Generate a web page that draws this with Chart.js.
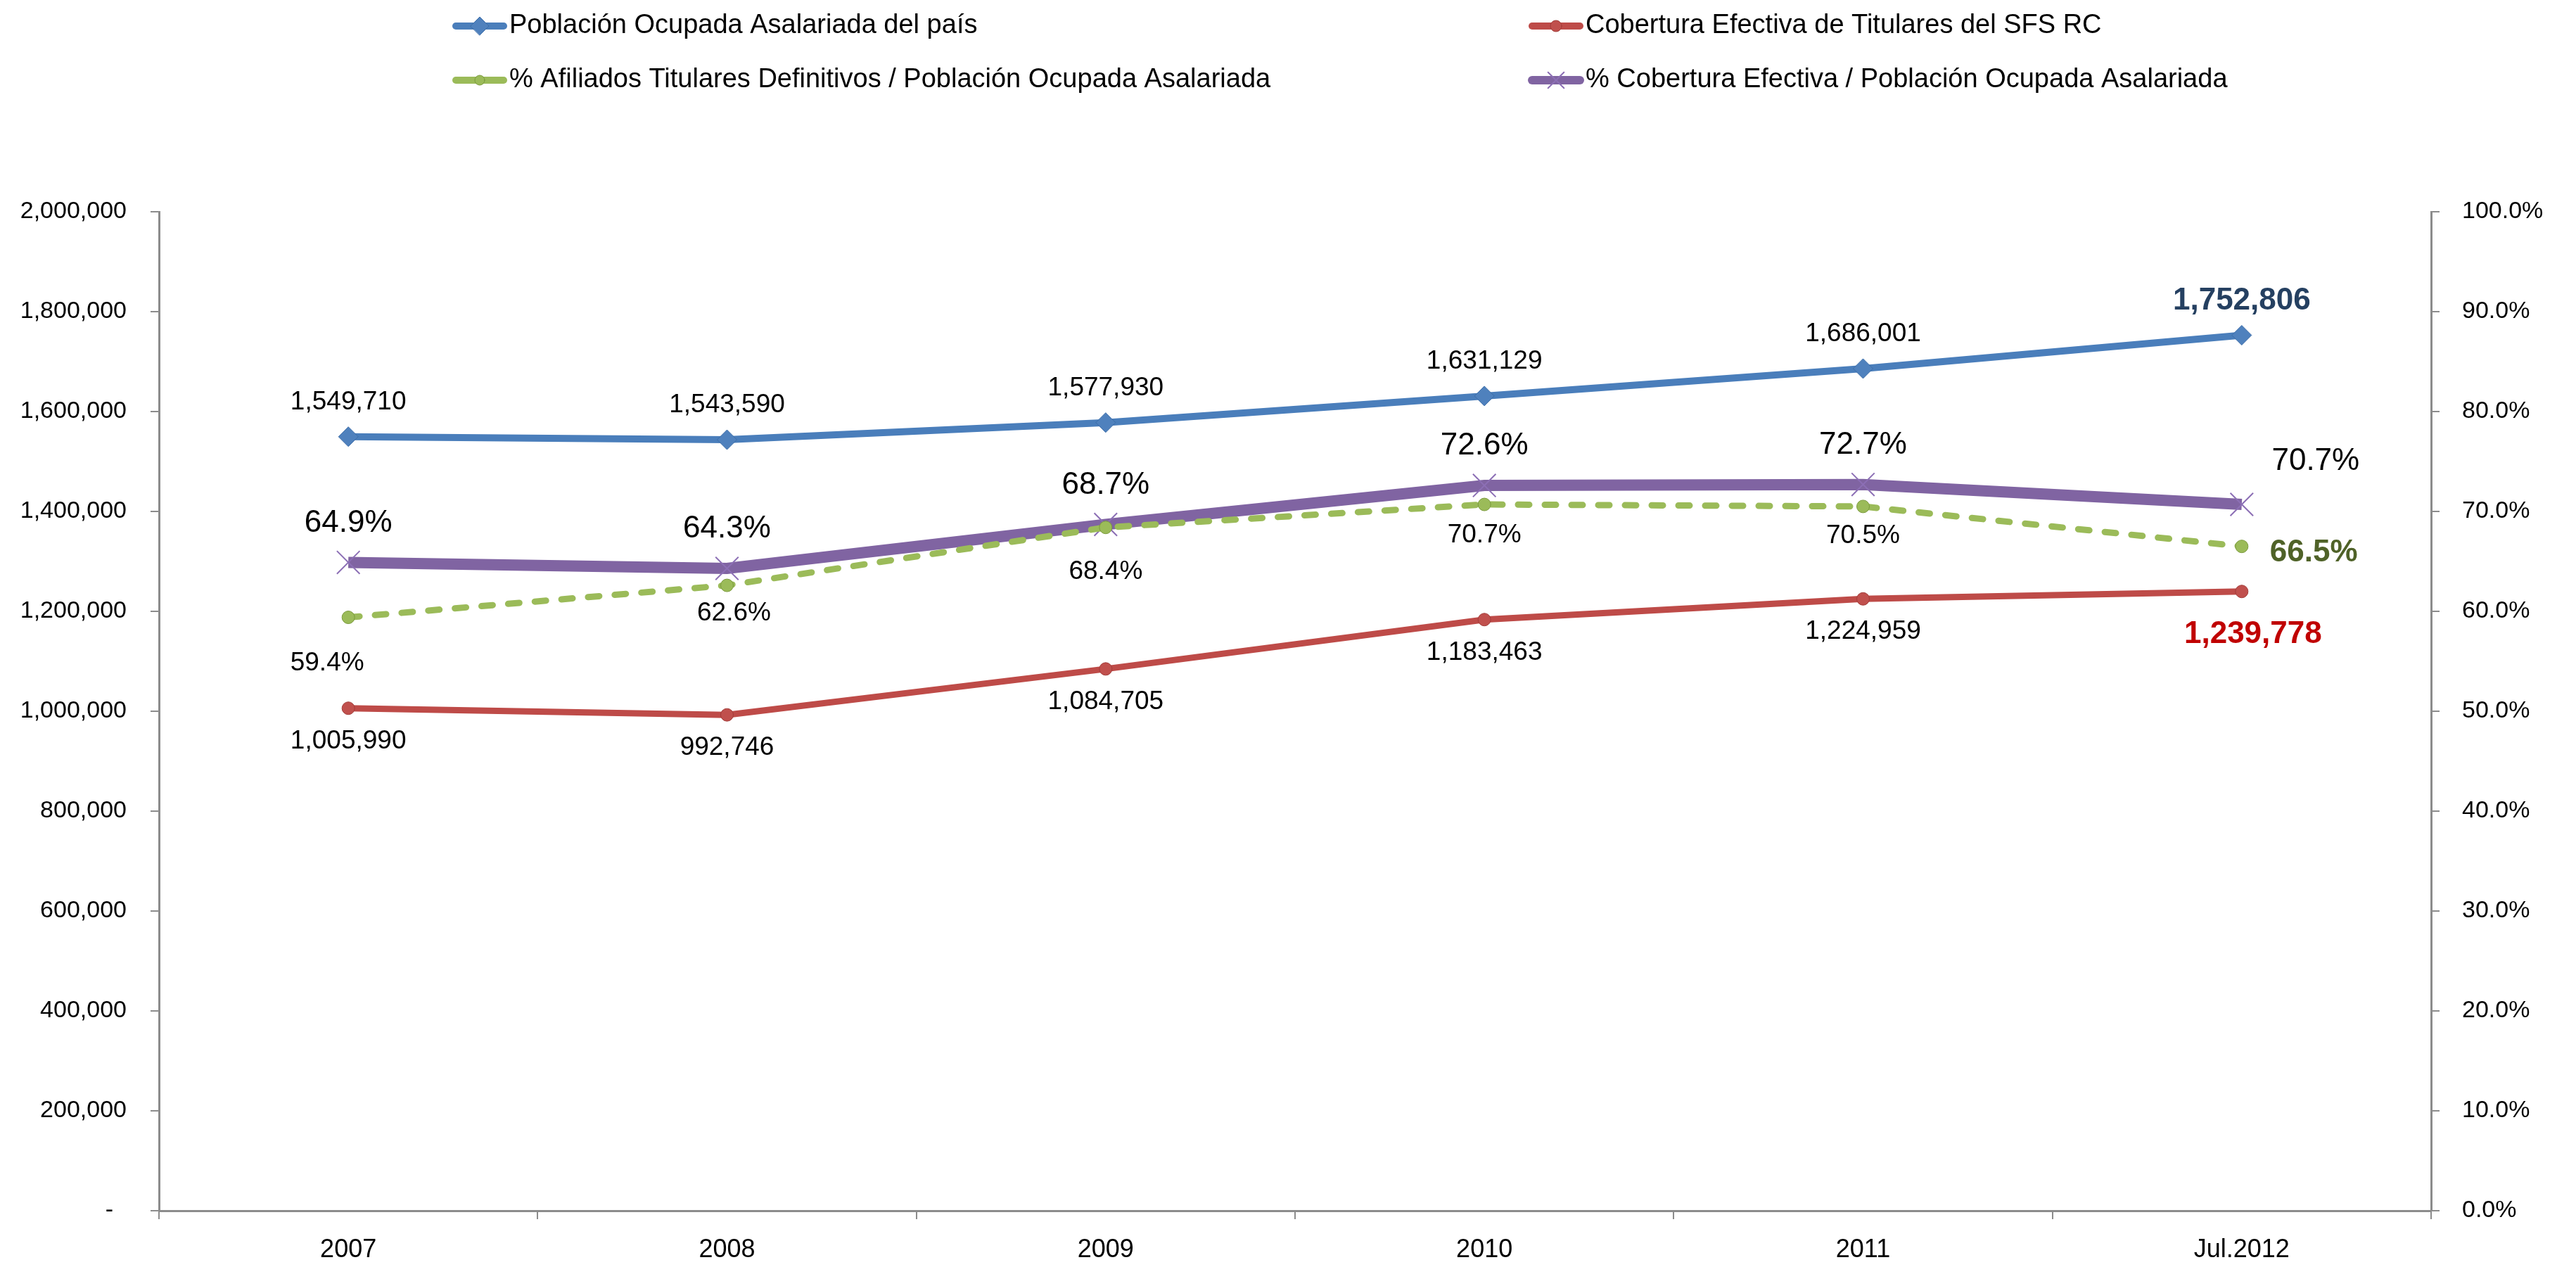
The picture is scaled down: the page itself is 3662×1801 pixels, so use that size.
<!DOCTYPE html>
<html>
<head>
<meta charset="utf-8">
<script src="https://cdn.jsdelivr.net/npm/chart.js@4.4.1/dist/chart.umd.min.js"></script>
<style>
  html, body { margin: 0; padding: 0; background: #ffffff; }
  #wrap { width: 3662px; height: 1801px; position: relative; }
</style>
</head>
<body>
<div id="wrap"><canvas id="c"></canvas></div>
<script>
// ---------- DATA ----------
const categories = ['2007', '2008', '2009', '2010', '2011', 'Jul.2012'];
const poblacionOcupada = [1549710, 1543590, 1577930, 1631129, 1686001, 1752806];
const coberturaEfectiva = [1005990, 992746, 1084705, 1183463, 1224959, 1239778];
const pctAfiliados = [59.4, 62.6, 68.4, 70.7, 70.5, 66.5];
const pctCobertura = [64.9, 64.3, 68.7, 72.6, 72.7, 70.7];
const seriesNames = [
  'Población Ocupada Asalariada del país',
  'Cobertura Efectiva de Titulares del SFS RC',
  '% Afiliados Titulares Definitivos / Población Ocupada Asalariada',
  '% Cobertura Efectiva / Población Ocupada Asalariada'
];

// ---------- STYLE ----------
const FONT = "'Liberation Sans', Arial, sans-serif";
const AXIS = '#8C8C8C';
const fmtNum = v => v.toLocaleString('en-US');
const fmtPct = v => v.toFixed(1) + '%';

const datasets = [
  { label: seriesNames[0], data: poblacionOcupada, yAxisID: 'y',
    borderColor: '#4A7EBB', backgroundColor: '#4F81BD', borderWidth: 10,
    pointStyle: 'rectRot', pointRadius: 14, pointBorderColor: '#3C6DA8', pointBorderWidth: 1,
    pointBackgroundColor: '#4F81BD', legendRadius: 13, legendLine: 10 },
  { label: seriesNames[1], data: coberturaEfectiva, yAxisID: 'y',
    borderColor: '#BE4B48', backgroundColor: '#C0504D', borderWidth: 9,
    pointStyle: 'circle', pointRadius: 9, pointBorderColor: '#A23B38', pointBorderWidth: 1,
    pointBackgroundColor: '#C0504D', legendRadius: 8, legendLine: 10 },
  { label: seriesNames[2], data: pctAfiliados, yAxisID: 'y1',
    borderColor: '#9BBB59', backgroundColor: '#9BBB59', borderWidth: 9,
    borderDash: [16, 22], borderCapStyle: 'round',
    pointStyle: 'circle', pointRadius: 9, pointBorderColor: '#7A9A3C', pointBorderWidth: 1,
    pointBackgroundColor: '#9BBB59', legendRadius: 7, legendLine: 10 },
  { label: seriesNames[3], data: pctCobertura, yAxisID: 'y1',
    borderColor: '#8064A2', backgroundColor: '#8064A2', borderWidth: 16,
    pointStyle: 'crossRot', pointRadius: 23, pointBorderColor: '#8C6FB5', pointBorderWidth: 2,
    pointBackgroundColor: '#8064A2', legendRadius: 16, legendLine: 12 }
];

// data label styling per series (offsets in px relative to the point)
const labelCfg = [
  { fmt: fmtNum, size: 37, color: '#000', dx: [0,0,0,0,0,0], dy: [-49,-49,-49,-49,-49,-49],
    last: { size: 44, bold: true, color: '#254061' } },
  { fmt: fmtNum, size: 37, color: '#000', dx: [0,0,0,0,0,16], dy: [47,47,47,47,47,61],
    last: { size: 44, bold: true, color: '#C00000' } },
  { fmt: fmtPct, size: 37, color: '#000', dx: [-30,10,0,0,0,40], dy: [65,40,63,44,42,9],
    last: { size: 44, bold: true, color: '#4F6228', align: 'left' } },
  { fmt: fmtPct, size: 44, color: '#000', dx: [0,0,0,0,0,105], dy: [-56,-56,-56,-56,-56,-61],
    last: { size: 44, bold: false, color: '#000' } }
];

const labelPlugin = {
  id: 'valueLabels',
  afterDatasetsDraw(chart) {
    const ctx = chart.ctx;
    ctx.save();
    ctx.textBaseline = 'middle';
    chart.data.datasets.forEach((ds, di) => {
      const meta = chart.getDatasetMeta(di);
      const cfg = labelCfg[di];
      meta.data.forEach((pt, i) => {
        const isLast = i === meta.data.length - 1;
        const st = isLast ? cfg.last : cfg;
        ctx.font = (st.bold ? 'bold ' : '') + st.size + 'px ' + FONT;
        ctx.fillStyle = st.color;
        ctx.textAlign = st.align || 'center';
        ctx.fillText(cfg.fmt(ds.data[i]), pt.x + cfg.dx[i], pt.y + cfg.dy[i]);
      });
    });
    ctx.restore();
  }
};

// legend positions (two columns, two rows)
const legendPos = [
  { x: 642, y: 37 }, { x: 2172, y: 37 }, { x: 642, y: 114 }, { x: 2172, y: 114 }
];
const legendPlugin = {
  id: 'customLegend',
  afterDraw(chart) {
    const ctx = chart.ctx;
    ctx.save();
    chart.data.datasets.forEach((ds, i) => {
      const p = legendPos[i];
      const len = 80;
      ctx.strokeStyle = ds.borderColor;
      ctx.lineWidth = ds.legendLine;
      ctx.lineCap = 'round';
      ctx.setLineDash([]);
      ctx.beginPath();
      ctx.moveTo(p.x + 6, p.y);
      ctx.lineTo(p.x + len - 6, p.y);
      ctx.stroke();
      ctx.fillStyle = ds.pointBackgroundColor;
      ctx.strokeStyle = ds.pointBorderColor;
      ctx.lineWidth = ds.pointBorderWidth;
      Chart.helpers.drawPoint(ctx, {
        pointStyle: ds.pointStyle,
        radius: ds.legendRadius,
        rotation: 0,
        borderWidth: ds.pointBorderWidth
      }, p.x + len / 2, p.y);
      ctx.font = '38px ' + FONT;
      ctx.fillStyle = '#000';
      ctx.textAlign = 'left';
      ctx.textBaseline = 'middle';
      ctx.fillText(ds.label, p.x + len + 2, p.y);
    });
    ctx.restore();
  }
};

const tickFont = { family: FONT, size: 34 };

new Chart(document.getElementById('c'), {
  type: 'line',
  data: { labels: categories, datasets: datasets },
  options: {
    responsive: true,
    maintainAspectRatio: false,
    devicePixelRatio: 1,
    animation: false,
    layout: { padding: { top: 301, left: 0, right: 0, bottom: 0 } },
    plugins: { legend: { display: false }, tooltip: { enabled: false } },
    elements: { line: { tension: 0 } },
    scales: {
      x: {
        type: 'category',
        offset: true,
        grid: { offset: true, drawOnChartArea: false, drawTicks: true, tickLength: 12, color: AXIS, lineWidth: 2 },
        border: { display: true, color: AXIS, width: 3 },
        ticks: { font: { family: FONT, size: 36 }, color: '#000', padding: 22, maxRotation: 0 },
        afterFit: s => { s.height = 80; }
      },
      y: {
        position: 'left',
        min: 0, max: 2000000,
        grid: { drawOnChartArea: false, drawTicks: true, tickLength: 12, color: AXIS, lineWidth: 2 },
        border: { display: true, color: AXIS, width: 3 },
        ticks: { stepSize: 200000, font: tickFont, color: '#000', padding: 34,
                 callback: v => v === 0 ? '-  ' : fmtNum(v) },
        afterFit: s => { s.width = 226; }
      },
      y1: {
        position: 'right',
        min: 0, max: 100,
        grid: { drawOnChartArea: false, drawTicks: true, tickLength: 12, color: AXIS, lineWidth: 2 },
        border: { display: true, color: AXIS, width: 3 },
        ticks: { stepSize: 10, font: tickFont, color: '#000', padding: 32,
                 callback: v => fmtPct(v) },
        afterFit: s => { s.width = 206; }
      }
    }
  },
  plugins: [labelPlugin, legendPlugin]
});
</script>
</body>
</html>
